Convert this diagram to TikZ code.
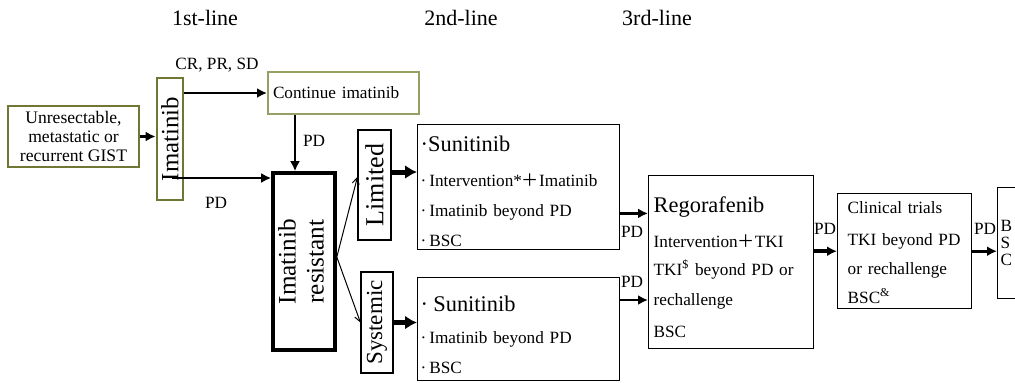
\documentclass[tikz,border=0pt]{standalone}
\usepackage{fontspec}
\setmainfont{Liberation Serif}
\newfontfamily\cjkfont{Noto Sans CJK SC}
\usepackage{graphicx}
\usetikzlibrary{arrows.meta, positioning}

\definecolor{oliveedge}{RGB}{112,118,52}
\definecolor{contedge}{RGB}{150,160,100}

\newcommand{\fwplus}{{\cjkfont ＋}}
\newcommand{\bigtxt}{\fontsize{11.2}{13}\selectfont}

\begin{document}
\begin{tikzpicture}[
    x=0.5pt, y=-0.5pt,
    head/.style={font=\fontsize{11}{13}\selectfont},
    lbl/.style={font=\fontsize{8.6}{10}\selectfont, inner sep=0pt},
    greenbox/.style={rectangle, draw=oliveedge, line width=1.4pt, align=center, inner sep=0pt},
    sidebox/.style={rectangle, draw, line width=0.55pt, inner sep=0pt},
    listbox/.style={rectangle, draw, line width=0.7pt, anchor=north west, inner ysep=0pt, align=left,
        font={\fontsize{8.6}{15}\selectfont\parindent=0pt\parskip=0pt}},
    arrow/.style={-{Latex[length=5pt,width=5pt]}, line width=1.3pt},
    bigarrow/.style={-{Latex[length=6pt,width=7pt]}, line width=2.5pt},
    thinarrow/.style={-{Straight Barb[length=3pt,width=3.5pt]}, line width=0.5pt}
]
\useasboundingbox (0,0) rectangle (1015,382);
\clip (0,0) rectangle (1015,382);

% column headings
\node[head] (first) at (205,18) {1st-line};
\node[head] (second) at (461,18) {2nd-line};
\node[head] (third) at (657,18) {3rd-line};

% first line
\node[greenbox, minimum width=65.5pt, minimum height=30.5pt, font=\fontsize{8.8}{9.5}\selectfont] (gist) at (73.5,136.5) {Unresectable,\\metastatic or\\recurrent GIST};
\node[greenbox, minimum width=13pt, minimum height=61pt, font=\fontsize{12.4}{14}\selectfont] (ima) at (170,139) {\rotatebox{90}{Imatinib}};
\node[greenbox, draw=contedge, line width=1pt, anchor=north west, minimum width=75.5pt, minimum height=21pt, text width=70.5pt, inner xsep=2.5pt, align=left, font=\fontsize{8.6}{10}\selectfont] (cont) at (267,71) {Continue imatinib};
\node[lbl] (resp) at (217,65) {CR, PR, SD};

\node[draw, line width=1.8pt, minimum width=31pt, minimum height=88.5pt, inner sep=0pt, font=\fontsize{12.6}{14}\selectfont] (res) at (304,261.5) {\rotatebox{90}{\begin{tabular}{@{}c@{}}Imatinib\\resistant\end{tabular}}};

% limited / systemic split
\node[sidebox, minimum width=16.5pt, minimum height=55pt, font=\fontsize{13}{14}\selectfont] (lim) at (374.5,185) {\rotatebox{90}{Limited}};
\node[sidebox, minimum width=16pt, minimum height=50.5pt, font=\fontsize{11.5}{13}\selectfont] (sys) at (377,322.5) {\rotatebox{90}{Systemic}};

% second line
\node[listbox, text width=98pt, inner xsep=1.5pt, minimum height=62.5pt] (sun1) at (417,124) {%
{\bigtxt\rule{0pt}{13.25pt}·Sunitinib}\\[2.5pt]
·\,Intervention*\fwplus Imatinib\\
·\,Imatinib beyond PD\\[0.25pt]
·\,BSC\rule[-1.5pt]{0pt}{1.5pt}};
\node[listbox, text width=98pt, inner xsep=1.5pt, minimum height=51.5pt] (sun2) at (417,277) {%
{\bigtxt\rule{0pt}{16.75pt}·\hspace{2.6pt}Sunitinib}\\[1pt]
·\,Imatinib beyond PD\\
·\,BSC\rule[-3.75pt]{0pt}{3.75pt}};

% third line and later
\node[listbox, text width=77.5pt, inner xsep=2.5pt, minimum height=86.5pt] (rego) at (648,175) {%
{\bigtxt\rule{0pt}{18.5pt}Regorafenib}\\[2.5pt]
Intervention\fwplus TKI\\[-1pt]
TKI\textsuperscript{\$} beyond PD or\\
rechallenge\\[1pt]
BSC\rule[-5.5pt]{0pt}{5.5pt}};
\node[listbox, text width=57pt, inner xsep=5pt, minimum height=57.5pt] (trials) at (837,193) {%
\rule{0pt}{10pt}Clinical trials\\[1pt]
TKI beyond PD\\[-0.5pt]
or rechallenge\\[-0.5pt]
BSC\textsuperscript{\&}\rule[-2.5pt]{0pt}{2.5pt}};
\node[listbox, text width=18.5pt, inner xsep=1.5pt, minimum height=55.5pt, font=\fontsize{8.6}{8.5}\selectfont] (bsc) at (997,187) {B\\S\\C};

% connectors
\draw[arrow] (gist.east) -- (gist.east -| ima.west);
\draw[arrow] (ima.east |- cont.west) -- (cont.west);
\coordinate (pdfork) at (172,178);
\draw[arrow, line width=1.1pt] (pdfork) -- (pdfork -| res.west);
\node[lbl] (pdlow) at (216,203) {PD};
\draw[arrow, line width=1pt] ([xshift=14pt]cont.south west) -- ([xshift=14pt]cont.south west |- res.north);
\node[lbl] (pdcont) at (314,141) {PD};

\draw[thinarrow] ([yshift=2.25pt]res.east) -- ([yshift=4pt]lim.west);
\draw[thinarrow] ([yshift=2.25pt]res.east) -- (sys.west);
\draw[bigarrow] ([yshift=6.5pt]lim.east) -- ([yshift=6.5pt]lim.east -| sun1.west);
\draw[bigarrow] (sys.east) -- (sys.east -| sun2.west);

\draw[arrow] ([yshift=18.5pt]sun1.south east) -- ([yshift=18.5pt]sun1.south east -| rego.west);
\node[lbl] (pdsun1) at (632,232) {PD};
\draw[arrow] ([yshift=-11.5pt]sun2.north east) -- ([yshift=-11.5pt]sun2.north east -| rego.west);
\node[lbl] (pdsun2) at (632,282) {PD};
\draw[arrow, line width=2pt] (trials.west -| rego.east) -- (trials.west);
\node[lbl] (pdrego) at (825,229) {PD};
\draw[arrow, line width=1.6pt] (trials.east) -- (trials.east -| bsc.west);
\node[lbl] (pdtrials) at (985,229) {PD};

\end{tikzpicture}
\end{document}
